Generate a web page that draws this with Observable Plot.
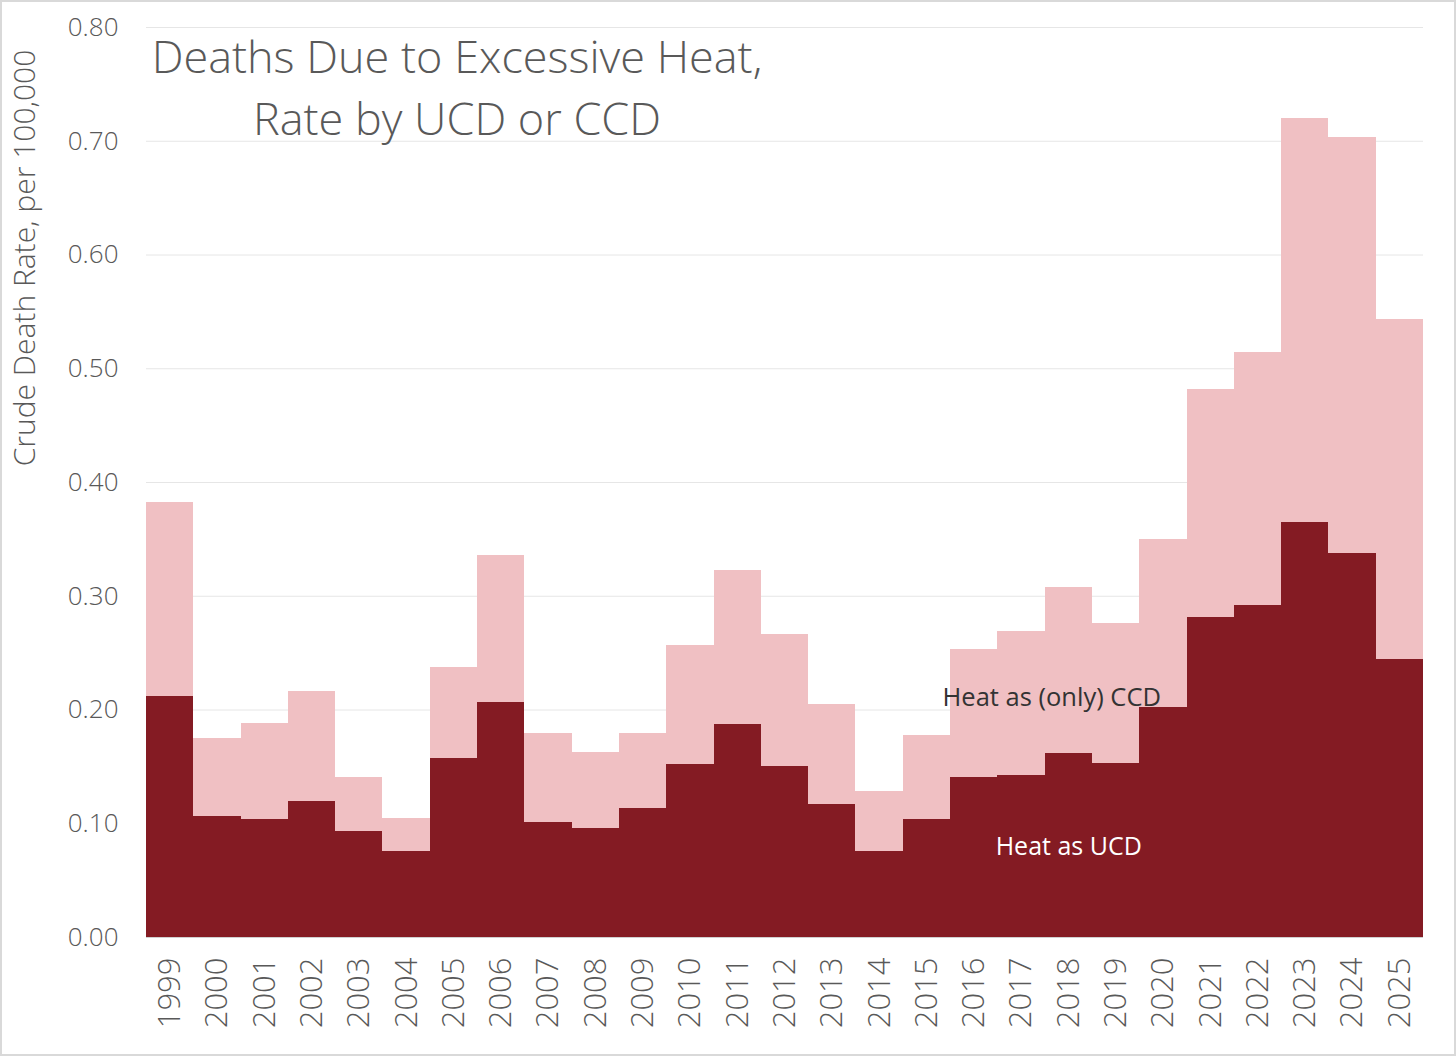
<!DOCTYPE html>
<html><head><meta charset="utf-8">
<script src="https://cdn.jsdelivr.net/npm/d3@7"></script>
<script src="https://cdn.jsdelivr.net/npm/@observablehq/plot@0.6"></script>
<style>
body{margin:0;background:#fff;}
#chart svg{display:block; outline:2px solid #d9d9d9; outline-offset:-2px;}
</style></head><body><div id="chart"></div>
<script>
const years = ["1999","2000","2001","2002","2003","2004","2005","2006","2007","2008","2009","2010","2011","2012","2013","2014","2015","2016","2017","2018","2019","2020","2021","2022","2023","2024","2025"];
const ucd = [0.212,0.106,0.104,0.120,0.093,0.076,0.157,0.207,0.101,0.096,0.113,0.152,0.187,0.150,0.117,0.076,0.104,0.141,0.142,0.162,0.153,0.202,0.281,0.292,0.365,0.338,0.244];
const ccdOnly = [0.170,0.069,0.084,0.096,0.048,0.029,0.080,0.129,0.078,0.067,0.066,0.105,0.136,0.116,0.088,0.052,0.074,0.112,0.127,0.146,0.123,0.148,0.201,0.222,0.355,0.365,0.299];
const yTicks = [0,0.1,0.2,0.3,0.4,0.5,0.6,0.7,0.8];
const seriesNames = ["Heat as UCD","Heat as (only) CCD"];
const seriesColors = ["#841B23","#F0C0C3"];
const labelUCD = [{year:"2018", value:0.080, text:"Heat as UCD"}];
const labelCCD = [{year:"2018", value:0.211, text:"Heat as (only) CCD"}];
const titleLines = ["Deaths Due to Excessive Heat,","Rate by UCD or CCD"];
const yLabel = "Crude Death Rate, per 100,000";

const rows = years.flatMap((yr,i)=>[
  {year:yr, series:seriesNames[0], value:ucd[i]},
  {year:yr, series:seriesNames[1], value:ccdOnly[i]}
]);
const FONT = "'Open Sans', 'Noto Sans', sans-serif";

const svg = Plot.plot({
  width:1456, height:1056,
  marginLeft:146, marginRight:33, marginTop:27, marginBottom:119,
  style:{fontFamily:FONT, background:"#fff"},
  x:{type:"band", domain:years, padding:0, round:false, label:null},
  y:{domain:[0,0.8], label:null},
  color:{domain:seriesNames, range:seriesColors},
  marks:[
    Plot.gridY(yTicks,{stroke:"#e6e6e6", strokeOpacity:1}),
    Plot.barY(rows,{x:"year", y:"value", fill:"series", order:seriesNames, shapeRendering:"crispEdges"}),
    Plot.ruleY([0],{stroke:"#d0d0d0"}),
    Plot.axisY(yTicks,{tickSize:0, tickPadding:28, tickFormat:d3.format(".2f"), fontSize:26, fill:"#595959", fontWeight:300, label:null}),
    Plot.axisX({tickSize:0, tickRotate:-90, tickPadding:20, fontSize:31, fill:"#595959", fontWeight:300, label:null}),
    Plot.text(labelUCD,{x:"year", y:"value", text:"text", fill:"#ffffff", fontSize:25}),
    Plot.text(labelCCD,{x:"year", y:"value", text:"text", fill:"#333333", fontSize:25.5, dx:-17})
  ]
});

const s = d3.select(svg);
s.append("text")
  .attr("x",457).attr("text-anchor","middle")
  .attr("font-family",FONT).attr("font-size",45).attr("font-weight",300).attr("fill","#595959")
  .selectAll("tspan").data(titleLines).join("tspan")
  .attr("x",457).attr("y",(d,i)=>73+i*62).text(d=>d);
s.append("text")
  .attr("transform","translate(27,258) rotate(-90)")
  .attr("text-anchor","middle").attr("dominant-baseline","middle")
  .attr("font-family",FONT).attr("font-size",30).attr("font-weight",300).attr("fill","#595959")
  .text(yLabel);

document.getElementById("chart").appendChild(svg);
</script></body></html>
